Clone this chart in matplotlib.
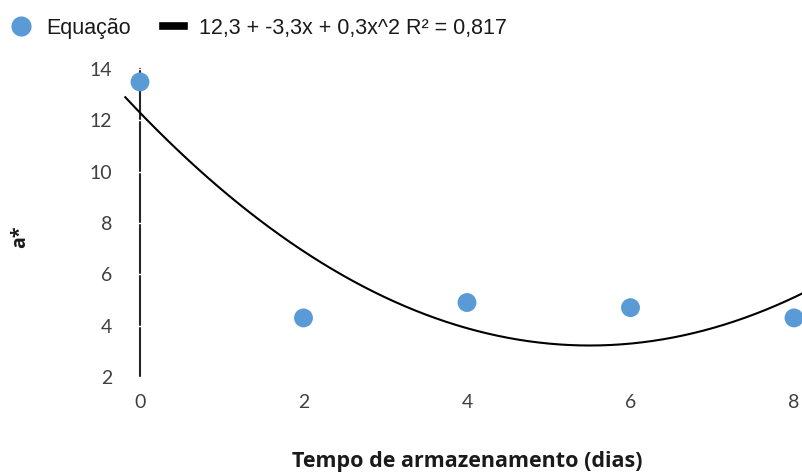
import numpy as np
import matplotlib.pyplot as plt
from matplotlib.lines import Line2D

# storage time (days) and measured a* values
dias = [0, 2, 4, 6, 8]
a_star = [13.5, 4.3, 4.9, 4.7, 4.3]

# quadratic fit coefficients: c0 + c1*x + c2*x^2
coef = [12.3, -3.3, 0.3]
r2 = 0.817
x_ticks = [0, 2, 4, 6, 8]
y_ticks = [2, 4, 6, 8, 10, 12, 14]

azul = '#5B9BD5'

fig = plt.figure(figsize=(8.03, 4.73), dpi=100)
ax = fig.add_axes([0.1438, 0.176, 0.8562, 0.705])

xs = np.linspace(-0.18, 8.2, 200)
ys = coef[0] + coef[1] * xs + coef[2] * xs ** 2
ax.plot(xs, ys, color='black', lw=1.5, zorder=2)
ax.scatter(dias, a_star, s=185, color=azul, edgecolors='none', zorder=3, clip_on=False)

ax.set_xlim(-0.3, 8.11)
ax.set_ylim(1.5, 14.5)

for s in ['top', 'right', 'bottom']:
    ax.spines[s].set_visible(False)
ax.spines['left'].set_position(('data', 0))
ax.spines['left'].set_bounds(2, 14)
ax.spines['left'].set_linewidth(1.5)
ax.spines['left'].set_color('#262626')
ax.spines['left'].set_zorder(1)

ax.set_xticks(x_ticks)
ax.set_yticks(y_ticks)
ax.tick_params(axis='x', length=0, pad=3, labelsize=14, labelcolor='#404040')
ax.tick_params(axis='y', length=3, width=1.0, direction='inout', color='white',
               pad=18.5, labelsize=14, labelcolor='#404040')
for lab in ax.get_xticklabels() + ax.get_yticklabels():
    lab.set_family('Lato')

fig.text(0.025, 0.50, 'a*', rotation=90, ha='center', va='center',
         fontsize=14, fontweight='bold', family='Open Sans', color='#1a1a1a')
fig.text(0.582, 0.025, 'Tempo de armazenamento (dias)', ha='center', va='center',
         fontsize=15.5, fontweight='bold', family='Open Sans', color='#1a1a1a')

eq = f'{coef[0]:.1f} + {coef[1]:.1f}x + {coef[2]:.1f}x^2 R² = {r2:.3f}'.replace('.', ',')
handles = [
    Line2D([], [], marker='o', ls='none', markersize=14.5, color=azul, markeredgewidth=0),
    Line2D([], [], color='black', lw=5.5),
]
leg = fig.legend(handles, ['Equação', eq], loc='upper left', bbox_to_anchor=(-0.005, 0.994),
                 ncol=2, frameon=False, handlelength=0.95, handletextpad=0.7,
                 columnspacing=1.5, borderaxespad=0.3, prop={'family': 'Liberation Sans', 'size': 15.5})
for t in leg.get_texts():
    t.set_color('#1a1a1a')

fig.savefig('out.png', dpi=100)
